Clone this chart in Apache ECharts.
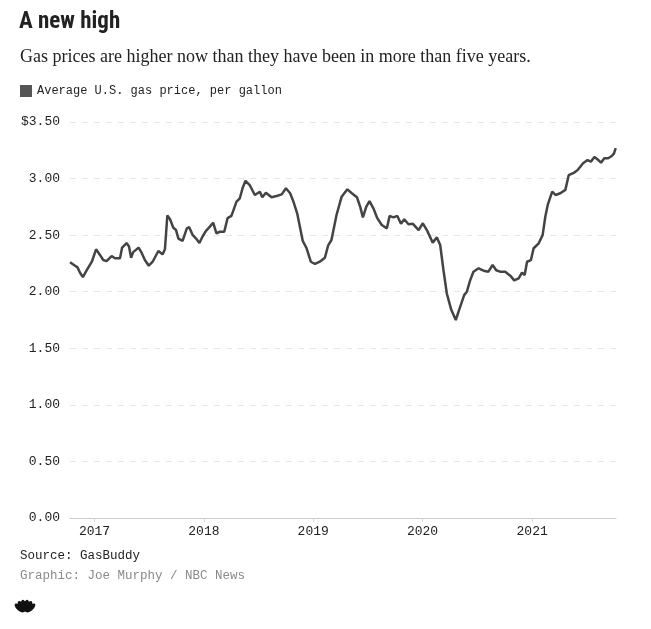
<!DOCTYPE html>
<html>
<head>
<meta charset="utf-8">
<script src="https://cdn.jsdelivr.net/npm/echarts@6/dist/echarts.min.js"></script>
<style>
  html, body { margin: 0; padding: 0; background: #fff; }
  #chart { width: 651px; height: 629px; }
</style>
</head>
<body>
<div id="chart"></div>
<script>
const titleText = 'A new high';
const subtitleText = 'Gas prices are higher now than they have been in more than five years.';
const seriesName = 'Average U.S. gas price, per gallon';
const sourceText = 'Source: GasBuddy';
const creditText = 'Graphic: Joe Murphy / NBC News';

const dates = [
  '2016-10-11','2016-10-28','2016-11-05','2016-11-14','2016-11-23','2016-12-06','2016-12-23',
  '2017-01-06','2017-01-19','2017-01-30','2017-02-10','2017-02-27','2017-03-10','2017-03-27',
  '2017-04-03','2017-04-18','2017-04-26','2017-05-03','2017-05-10','2017-05-28','2017-06-07',
  '2017-06-18','2017-07-01','2017-07-14','2017-08-02','2017-08-16','2017-08-24','2017-09-01',
  '2017-09-10','2017-09-21','2017-09-30','2017-10-08','2017-10-22','2017-10-28','2017-11-05',
  '2017-11-13','2017-11-25','2017-12-06','2017-12-17','2017-12-28','2018-01-08','2018-01-21',
  '2018-02-01','2018-02-12','2018-02-23','2018-03-10','2018-03-21','2018-04-03','2018-04-20',
  '2018-05-01','2018-05-10','2018-05-20','2018-06-03','2018-06-20','2018-07-07','2018-07-15',
  '2018-07-27','2018-08-15','2018-09-01','2018-09-18','2018-10-02','2018-10-16','2018-10-27',
  '2018-11-09','2018-11-27','2018-12-10','2018-12-24','2019-01-07','2019-01-23','2019-02-09',
  '2019-02-20','2019-03-03','2019-03-20','2019-04-06','2019-04-25','2019-05-10','2019-05-27',
  '2019-06-07','2019-06-16','2019-06-27','2019-07-08','2019-07-21','2019-08-03','2019-08-18',
  '2019-09-04','2019-09-13','2019-09-26','2019-10-09','2019-10-21','2019-11-01','2019-11-15',
  '2019-11-30','2019-12-19','2020-01-02','2020-01-17','2020-02-04','2020-02-18','2020-02-29',
  '2020-03-11','2020-03-22','2020-04-06','2020-04-21','2020-05-06','2020-05-19','2020-05-28',
  '2020-06-08','2020-06-19','2020-07-06','2020-07-23','2020-08-08','2020-08-22','2020-09-03',
  '2020-09-16','2020-10-03','2020-10-20','2020-11-02','2020-11-17','2020-11-28','2020-12-07',
  '2020-12-15','2020-12-28','2021-01-06','2021-01-23','2021-02-05','2021-02-14','2021-02-22',
  '2021-03-09','2021-03-20','2021-04-05','2021-04-22','2021-05-03','2021-05-20','2021-06-02',
  '2021-06-20','2021-07-05','2021-07-16','2021-07-28','2021-08-10','2021-08-19','2021-08-30',
  '2021-09-12','2021-09-24','2021-10-01','2021-10-07'
];

const prices = [
  2.26,2.23,2.215,2.165,2.13,2.19,2.265,
  2.375,2.325,2.28,2.27,2.315,2.295,2.295,
  2.39,2.43,2.40,2.30,2.35,2.39,2.345,
  2.28,2.23,2.265,2.36,2.33,2.375,2.675,
  2.64,2.565,2.545,2.47,2.45,2.457,2.56,
  2.57,2.50,2.47,2.43,2.49,2.537,2.575,
  2.61,2.516,2.53,2.53,2.65,2.67,2.796,
  2.826,2.914,2.98,2.943,2.855,2.884,2.835,
  2.875,2.835,2.846,2.86,2.914,2.87,2.796,
  2.687,2.45,2.384,2.265,2.245,2.265,2.30,
  2.41,2.457,2.68,2.84,2.905,2.87,2.835,
  2.75,2.657,2.75,2.80,2.737,2.65,2.59,
  2.56,2.67,2.657,2.67,2.60,2.64,2.596,
  2.60,2.545,2.605,2.537,2.434,2.48,2.413,
  2.19,1.986,1.84,1.75,1.868,1.97,2.00,
  2.10,2.177,2.207,2.186,2.177,2.236,2.19,
  2.177,2.177,2.142,2.10,2.118,2.168,2.148,
  2.265,2.28,2.384,2.428,2.50,2.663,2.767,
  2.884,2.855,2.87,2.90,3.03,3.05,3.076,
  3.135,3.164,3.15,3.19,3.164,3.14,3.18,
  3.18,3.20,3.22,3.27
];

const xMin = '2016-10-11';
const xMax = '2021-10-08';
const yMin = 0, yMax = 3.5, yStep = 0.5;

const mono = '"Liberation Mono", "DejaVu Sans Mono", monospace';

const chart = echarts.init(document.getElementById('chart'), null, { renderer: 'canvas' });

const feathers = [-48, -29, -10, 10, 29, 48].map(function (a) {
  return {
    type: 'ellipse',
    shape: { cx: 0, cy: -7.5, rx: 2.7, ry: 6 },
    rotation: -a * Math.PI / 180,
    style: { fill: '#111' }
  };
});

chart.setOption({
  animation: false,
  backgroundColor: '#ffffff',
  title: [
    {
      text: titleText,
      left: 14, top: 6,
      textStyle: { fontFamily: '"Liberation Sans Narrow", "Roboto Condensed", Roboto, sans-serif', fontWeight: 'bold', fontSize: 23, color: '#222' }
    },
    {
      text: subtitleText,
      left: 15, top: 43,
      textStyle: { fontFamily: '"Liberation Serif", "DejaVu Serif", serif', fontWeight: 'normal', fontSize: 18, color: '#222' }
    }
  ],
  legend: {
    left: 15, top: 80,
    icon: 'rect',
    itemWidth: 12, itemHeight: 12, itemGap: 6,
    textStyle: { fontFamily: mono, fontSize: 12, color: '#222' },
    data: [seriesName]
  },
  grid: { left: 70, right: 35, top: 122, bottom: 111, containLabel: false },
  xAxis: {
    type: 'time',
    min: xMin, max: xMax,
    minInterval: 365 * 24 * 3600 * 1000,
    axisLine: { show: true, lineStyle: { color: '#cccccc', width: 1 } },
    axisTick: { show: true, length: 4, lineStyle: { color: '#d5d5d5' } },
    splitLine: { show: false },
    axisLabel: {
      showMinLabel: false, showMaxLabel: false,
      fontFamily: mono, fontSize: 13, color: '#222', margin: 7,
      formatter: function (v) {
        const d = new Date(v);
        return (d.getMonth() === 0 && d.getDate() === 1) ? String(d.getFullYear()) : '';
      }
    }
  },
  yAxis: {
    type: 'value',
    min: yMin, max: yMax, interval: yStep,
    axisLine: { show: false },
    axisTick: { show: false },
    splitLine: { show: true, lineStyle: { color: '#e6e6e6', type: [6, 6], width: 1 } },
    axisLabel: {
      fontFamily: mono, fontSize: 13, color: '#222', margin: 10,
      formatter: function (v) { return (v === yMax ? '$' : '') + v.toFixed(2); }
    }
  },
  series: [{
    name: seriesName,
    type: 'line',
    data: dates.map(function (d, i) { return [d, prices[i]]; }),
    showSymbol: false,
    symbol: 'none',
    lineStyle: { color: '#444444', width: 2.5 },
    itemStyle: { color: '#555555' }
  }],
  graphic: [
    {
      type: 'text', left: 20, top: 549,
      style: { text: sourceText, font: '12.5px ' + mono, fill: '#222' }
    },
    {
      type: 'text', left: 20, top: 569,
      style: { text: creditText, font: '12.5px ' + mono, fill: '#8a8a8a' }
    },
    {
      type: 'group', x: 25, y: 613,
      children: feathers
    }
  ]
});
</script>
</body>
</html>
